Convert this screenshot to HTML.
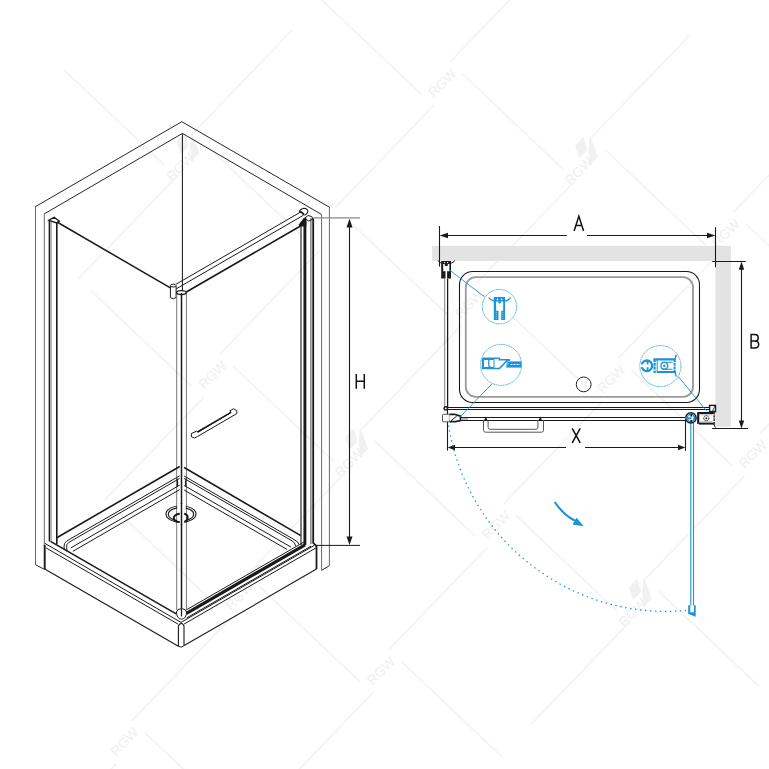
<!DOCTYPE html>
<html><head><meta charset="utf-8"><style>
html,body{margin:0;padding:0;background:#fff;width:769px;height:769px;overflow:hidden}
svg{display:block}
</style></head><body>
<svg width="769" height="769" viewBox="0 0 769 769">
<rect width="769" height="769" fill="#fff"/>
<!-- watermark -->
<g stroke="#f3f3f3" stroke-width="1.7" fill="none">
<line x1="64.1" y1="69.9" x2="164.7" y2="165.3"/>
<line x1="78.3" y1="278.8" x2="177.4" y2="175.9"/>
<line x1="91.0" y1="290.8" x2="191.6" y2="386.2"/>
<line x1="193.2" y1="132.9" x2="292.3" y2="30.0"/>
<line x1="205.9" y1="144.9" x2="306.5" y2="240.3"/>
<line x1="320.8" y1="-1.0" x2="421.4" y2="94.4"/>
<line x1="105.2" y1="499.7" x2="204.3" y2="396.8"/>
<line x1="117.9" y1="511.7" x2="218.5" y2="607.1"/>
<line x1="220.1" y1="353.8" x2="319.2" y2="250.9"/>
<line x1="232.8" y1="365.8" x2="333.4" y2="461.2"/>
<line x1="335.0" y1="207.9" x2="434.1" y2="105.0"/>
<line x1="347.7" y1="219.9" x2="448.3" y2="315.3"/>
<line x1="449.9" y1="62.0" x2="549.0" y2="-40.9"/>
<line x1="462.6" y1="74.0" x2="563.2" y2="169.4"/>
<line x1="17.2" y1="866.5" x2="116.3" y2="763.6"/>
<line x1="132.1" y1="720.6" x2="231.2" y2="617.7"/>
<line x1="144.8" y1="732.6" x2="245.4" y2="828.0"/>
<line x1="247.0" y1="574.7" x2="346.1" y2="471.8"/>
<line x1="259.7" y1="586.7" x2="360.3" y2="682.1"/>
<line x1="361.9" y1="428.8" x2="461.0" y2="325.9"/>
<line x1="374.6" y1="440.8" x2="475.2" y2="536.2"/>
<line x1="476.8" y1="282.9" x2="575.9" y2="180.0"/>
<line x1="489.5" y1="294.9" x2="590.1" y2="390.3"/>
<line x1="591.7" y1="137.0" x2="690.8" y2="34.1"/>
<line x1="604.4" y1="149.0" x2="705.0" y2="244.4"/>
<line x1="273.9" y1="795.6" x2="373.0" y2="692.7"/>
<line x1="388.8" y1="649.7" x2="487.9" y2="546.8"/>
<line x1="401.5" y1="661.7" x2="502.1" y2="757.1"/>
<line x1="503.7" y1="503.8" x2="602.8" y2="400.9"/>
<line x1="516.4" y1="515.8" x2="617.0" y2="611.2"/>
<line x1="618.6" y1="357.9" x2="717.7" y2="255.0"/>
<line x1="631.3" y1="369.9" x2="731.9" y2="465.3"/>
<line x1="733.5" y1="212.0" x2="832.6" y2="109.1"/>
<line x1="746.2" y1="224.0" x2="846.8" y2="319.4"/>
<line x1="530.6" y1="724.7" x2="629.7" y2="621.8"/>
<line x1="645.5" y1="578.8" x2="744.6" y2="475.9"/>
<line x1="658.2" y1="590.8" x2="758.8" y2="686.2"/>
<line x1="760.4" y1="432.9" x2="859.5" y2="330.0"/>
<line x1="773.1" y1="444.9" x2="873.7" y2="540.3"/>
</g>
<g fill="#efefef" font-family="Liberation Sans, sans-serif" font-size="13.5" text-anchor="middle">
<polygon points="176.4,141.9 184.9,132.4 188.9,145.9 180.9,153.9" fill="#f1f1f1"/>
<polygon points="189.9,144.9 191.4,130.9 199.4,152.9 191.4,160.9" fill="#f1f1f1"/>
<text x="180.4" y="171.4" transform="rotate(-45 180.4 166.9)">RGW</text>
<text x="212.3" y="379.6" transform="rotate(-45 212.3 374.8)">RGW</text>
<text x="442.1" y="87.8" transform="rotate(-45 442.1 83.0)">RGW</text>
<text x="124.3" y="746.4" transform="rotate(-45 124.3 741.6)">RGW</text>
<text x="239.2" y="600.5" transform="rotate(-45 239.2 595.7)">RGW</text>
<polygon points="345.1,437.8 353.6,428.3 357.6,441.8 349.6,449.8" fill="#f1f1f1"/>
<polygon points="358.6,440.8 360.1,426.8 368.1,448.8 360.1,456.8" fill="#f1f1f1"/>
<text x="349.1" y="467.3" transform="rotate(-45 349.1 462.8)">RGW</text>
<text x="469.0" y="308.7" transform="rotate(-45 469.0 303.9)">RGW</text>
<polygon points="574.9,146.0 583.4,136.5 587.4,150.0 579.4,158.0" fill="#f1f1f1"/>
<polygon points="588.4,149.0 589.9,135.0 597.9,157.0 589.9,165.0" fill="#f1f1f1"/>
<text x="578.9" y="175.5" transform="rotate(-45 578.9 171.0)">RGW</text>
<text x="381.0" y="675.5" transform="rotate(-45 381.0 670.7)">RGW</text>
<text x="495.9" y="529.6" transform="rotate(-45 495.9 524.8)">RGW</text>
<text x="610.8" y="383.7" transform="rotate(-45 610.8 378.9)">RGW</text>
<text x="725.7" y="237.8" transform="rotate(-45 725.7 233.0)">RGW</text>
<polygon points="628.7,587.8 637.2,578.3 641.2,591.8 633.2,599.8" fill="#f1f1f1"/>
<polygon points="642.2,590.8 643.7,576.8 651.7,598.8 643.7,606.8" fill="#f1f1f1"/>
<text x="632.7" y="617.3" transform="rotate(-45 632.7 612.8)">RGW</text>
<text x="752.6" y="458.7" transform="rotate(-45 752.6 453.9)">RGW</text>
</g>
<!-- /watermark -->
<!-- ============ LEFT ISOMETRIC ============ -->
<g fill="none" stroke="#1a1a1a" stroke-width="1.05" stroke-linejoin="miter">
  <!-- walls -->
  <polyline points="35.5,206.6 181.8,121.7 329.4,207.2" stroke-width="0.95"/>
  <polyline points="44.3,213.9 182.4,133.4 321.6,214.5" stroke-width="0.95"/>
  <g stroke="#6a6a6a" stroke-width="1">
    <line x1="35.5" y1="206.2" x2="35.5" y2="564.7"/>
    <line x1="329.4" y1="206.8" x2="329.4" y2="565.7"/>
    <line x1="44.3" y1="213.6" x2="44.3" y2="546"/>
    <line x1="321.6" y1="214.2" x2="321.6" y2="570.4"/>
  </g>
  <polyline points="35.5,564.7 44.5,569.4" stroke-width="0.95"/>
  <polyline points="329.4,565.7 321.6,570.4" stroke-width="0.95"/>
  <line x1="182.4" y1="133.4" x2="182.4" y2="291"/>

  <!-- left profile -->
  <line x1="49.4" y1="220.5" x2="49.4" y2="541.6" stroke-width="1.5"/>
  <line x1="56.8" y1="222.5" x2="56.8" y2="544.2" stroke-width="1.6"/>
  <line x1="51.1" y1="221" x2="51.1" y2="541" stroke="#8a8a8a" stroke-width="1.1"/>
  <polygon points="48.8,220.4 54.1,217.2 59.4,221.3 56.8,223" stroke-width="1.35"/>
  <!-- left glass top edge -->
  <line x1="57" y1="222" x2="170.4" y2="287.9" stroke-width="1.5"/>
  <!-- hinge cylinder -->
  <path d="M170.4,286 V297.5 Q173.25,300 176.1,297.5 V286" stroke-width="1"/>
  <ellipse cx="173.25" cy="285.6" rx="2.85" ry="1.4" stroke-width="1"/>
  <!-- center post -->
  <line x1="176.7" y1="293" x2="176.7" y2="610" stroke="#777" stroke-width="1"/>
  <line x1="181.5" y1="293" x2="181.5" y2="610" stroke-width="1.5"/>
  <line x1="186.4" y1="293" x2="186.4" y2="610" stroke="#777" stroke-width="1"/>
  <ellipse cx="181.4" cy="292.6" rx="4.8" ry="2" stroke-width="1.3"/>
  <!-- top rail -->
  <line x1="176.1" y1="284.2" x2="300.9" y2="211.9" stroke-width="1"/>
  <line x1="176.1" y1="288.9" x2="302.8" y2="215.6" stroke-width="1"/>
  <line x1="186.3" y1="292" x2="300.5" y2="226" stroke-width="1.7"/>
  <path d="M299,211.6 C300.8,208.6 305.2,207 307.4,209.8 C308.6,211.6 307.6,213.6 304.6,215.4" fill="#fff" stroke-width="1.1"/>
  <path d="M299.4,211.6 C301.6,212 303.4,213.4 303.9,215.3" stroke-width="1.7"/>
  <!-- right profile -->
  <line x1="301" y1="224" x2="301" y2="545" stroke="#222" stroke-width="1.15"/>
  <line x1="304.9" y1="218" x2="304.9" y2="545" stroke-width="2.9"/>
  <line x1="310.9" y1="218" x2="310.9" y2="544" stroke="#555" stroke-width="1.1"/>
  <line x1="313.2" y1="218.5" x2="313.2" y2="543" stroke-width="1.8"/>
  <polygon points="304.5,218.2 308.1,215.5 311.8,216.6 313,219 308.6,221" stroke-width="1"/>
  <path d="M298.6,224.8 L303.4,218.4 L306.3,219.4 L306.3,226.5 L299.5,226.5 Z" fill="#1a1a1a" stroke="none"/>
  <!-- handle -->
  <path d="M191.4,433.5 L196.5,431.2 L198.2,432.1 L231,412.4 L229.8,410.8 L233.5,408.8 L236.8,410.6 L236.8,413.6 L197.5,436.5 L194.5,438 L191.4,436.8 Z" stroke-width="1"/>
  <line x1="197.5" y1="432" x2="231" y2="412.3" stroke-width="1.5"/>
  <!-- H dimension -->
  <line x1="313.2" y1="217.8" x2="360" y2="217.8" stroke="#888" stroke-width="1.2"/>
  <line x1="316.6" y1="545.4" x2="360" y2="545.4" stroke-width="1"/>
  <line x1="349.5" y1="222" x2="349.5" y2="541" stroke-width="1.1"/>
  <path d="M349.5,218.8 L346.5,227.6 L352.5,227.6 Z" fill="#1a1a1a" stroke="none"/>
  <path d="M349.5,545 L346.5,536.5 L352.5,536.5 Z" fill="#1a1a1a" stroke="none"/>
  <!-- tray back edges (thick) -->
  <line x1="56.8" y1="537.7" x2="179.7" y2="466.5" stroke-width="1.6"/>
  <line x1="184.1" y1="467.5" x2="300.8" y2="535.6" stroke-width="1.6"/>
  <!-- tray rim back-left -->
  <g stroke-width="1">
    <path d="M179.7,475.8 L67,540.8 Q63.5,543 64,547 L64.5,549.5"/>
    <path d="M179.7,478.4 L69,542.3 Q66,544.3 66.6,547.3 L67,551"/>
    <line x1="179.7" y1="485.1" x2="70.8" y2="547.9"/>
    <line x1="179.7" y1="489.6" x2="72.9" y2="551.3"/>
    <path d="M176.8,478.5 Q178.3,482 177.2,486.5" stroke-width="1.2"/>
    <!-- rim back-right -->
    <path d="M184.1,476 L294,539.5 Q298.5,541.7 298.9,544.3"/>
    <path d="M184.1,478.4 L292,540.8 Q295.5,543 295.5,546"/>
    <line x1="184.1" y1="485.4" x2="291" y2="547.1"/>
    <line x1="184.1" y1="490" x2="287" y2="549.4"/>
    <path d="M186.3,478.5 Q184.8,482 185.8,486.5" stroke-width="1.2"/>
  </g>
  <!-- drain -->
  <g stroke-width="1.1">
    <ellipse cx="181" cy="514" rx="15" ry="8.3"/>
    <ellipse cx="181" cy="514.3" rx="12.7" ry="6.7"/>
  </g>
  <rect x="177.3" y="504" width="8.4" height="20" fill="#fff" stroke="none"/>
  <path d="M179.8,513.8 C175.5,514 173.5,516.5 173.8,518 C174,520.5 176.5,522 179.8,522.1" stroke-width="2"/>
  <path d="M184.2,513.8 C187,514.2 188,516 187.6,518 C187.2,520 185.8,521.8 184.2,522.1" stroke-width="2"/>
  <line x1="181.5" y1="503" x2="181.5" y2="525" stroke-width="1.5"/>
  <!-- tray front left -->
  <line x1="44.7" y1="545" x2="44.7" y2="569.2" stroke-width="1.9"/>
  <line x1="44.7" y1="569" x2="178.4" y2="646.2" stroke-width="1.1"/>
  <line x1="44.8" y1="543.3" x2="181" y2="622.4" stroke-width="1"/>
  <line x1="46.2" y1="548" x2="178.4" y2="624.3" stroke-width="1"/>
  <line x1="50.5" y1="541.4" x2="176.2" y2="613.9" stroke-width="1.6"/>
  <!-- tray front corner -->
  <path d="M178.4,646.2 V626 Q181.3,620.8 184,626 V645.5" stroke-width="1.1"/>
  <path d="M178.4,646.2 Q181.3,648.5 184.2,645.5" stroke-width="1"/>
  <!-- post knob -->
  <path d="M176.4,612 Q176.6,618.6 181.5,619.2 Q186.5,618.6 186.6,612 Q186,608.8 181.5,608.6 Q177,608.8 176.4,612" fill="#fff" stroke-width="1"/>
  <line x1="181.5" y1="609" x2="181.5" y2="616.5" stroke-width="1.2"/>
  <!-- tray front right -->
  <line x1="184.2" y1="645.5" x2="316.5" y2="569.1" stroke-width="1.1"/>
  <line x1="316.5" y1="569.1" x2="316.5" y2="545" stroke-width="1.8"/>
  <path d="M312.8,542.8 L315.5,544.8 L316.5,546.5" stroke-width="1.6"/>
  <line x1="181" y1="622.4" x2="314.5" y2="545.3" stroke-width="1"/>
  <line x1="183.8" y1="624.2" x2="316.5" y2="547.6" stroke-width="1"/>
  <!-- door bottom track -->
  <line x1="186.5" y1="609.8" x2="305" y2="541.4" stroke-width="1"/>
  <line x1="186.5" y1="613.3" x2="305" y2="544.9" stroke-width="3.2"/>
  <line x1="186.5" y1="618" x2="311" y2="546.2" stroke-width="1"/>
</g>

<!-- ============ RIGHT PLAN ============ -->
<g>
  <rect x="432.1" y="245.8" width="298.8" height="15.1" fill="#e3e3e3"/>
  <rect x="715.3" y="260.9" width="15.6" height="165.9" fill="#e3e3e3"/>
</g>
<g fill="none" stroke="#1a1a1a" stroke-width="1.2">
  <!-- A dimension -->
  <line x1="439.5" y1="226" x2="439.5" y2="266.6" stroke-width="1.1"/>
  <line x1="715.5" y1="227.1" x2="715.5" y2="267.3" stroke-width="1.1"/>
  <line x1="442" y1="235.5" x2="566.8" y2="235.5" stroke-width="1.1"/>
  <line x1="587" y1="235.5" x2="712" y2="235.5" stroke-width="1.1"/>
  <path d="M439.6,235.5 L448,232.8 L448,238.2 Z" fill="#1a1a1a" stroke="none"/>
  <path d="M715.4,235.5 L707,232.8 L707,238.2 Z" fill="#1a1a1a" stroke="none"/>
  <!-- B dimension -->
  <line x1="712.2" y1="261.5" x2="745.7" y2="261.5" stroke-width="1.1"/>
  <line x1="712.1" y1="428.5" x2="748" y2="428.5" stroke-width="1.1"/>
  <line x1="741.5" y1="265" x2="741.5" y2="425" stroke-width="1.1"/>
  <path d="M741.5,261.6 L738.8,269.8 L744.2,269.8 Z" fill="#1a1a1a" stroke="none"/>
  <path d="M741.5,428.4 L738.8,420.4 L744.2,420.4 Z" fill="#1a1a1a" stroke="none"/>
  <!-- X dimension -->
  <line x1="447.5" y1="422" x2="447.5" y2="450.6" stroke-width="1.1"/>
  <line x1="685.5" y1="419" x2="685.5" y2="450.8" stroke-width="1.1"/>
  <line x1="450" y1="447.5" x2="566" y2="447.5" stroke-width="1.1"/>
  <line x1="585" y1="447.5" x2="683" y2="447.5" stroke-width="1.1"/>
  <path d="M447.7,447.5 L455,444.8 L455,450.2 Z" fill="#1a1a1a" stroke="none"/>
  <path d="M685.3,447.5 L678,444.8 L678,450.2 Z" fill="#1a1a1a" stroke="none"/>
  <!-- tray -->
  <rect x="459.5" y="271.5" width="240" height="131" rx="13" ry="13" stroke-width="1.1"/>
  <rect x="465.8" y="277.1" width="227.2" height="119.8" rx="10" ry="10" stroke="#9a9a9a" stroke-width="1.8"/>
  <circle cx="583.7" cy="384.4" r="7.4" stroke="#222" stroke-width="1"/>
  <!-- left wall profile -->
  <line x1="444.6" y1="278.6" x2="444.6" y2="407" stroke="#9a9a9a" stroke-width="1.3"/>
  <line x1="447.6" y1="278.6" x2="447.6" y2="407" stroke-width="1.3"/>
  <circle cx="445.8" cy="408.4" r="1.7" fill="#fff" stroke-width="1.5"/>
  <line x1="447.5" y1="410" x2="447.5" y2="414.3" stroke-width="1.2"/>
  <!-- fixed glass -->
  <line x1="447.5" y1="407.5" x2="709.5" y2="407.5" stroke-width="1.1"/>
  <line x1="447.5" y1="409.5" x2="709.5" y2="409.5" stroke-width="1.1"/>
  <rect x="709.6" y="405.4" width="5.9" height="6.2" fill="#fff" stroke-width="1.4"/>
  <path d="M715,406 L712.3,411.3" stroke-width="0.8"/>
  <!-- door track -->
  <line x1="460" y1="417.5" x2="686" y2="417.5" stroke-width="1.1"/>
  <line x1="460" y1="420.5" x2="686" y2="420.5" stroke-width="1.1"/>
  <!-- handle -->
  <path d="M483.5,420.2 V430.2 Q483.5,432.2 485.5,432.2 H541.5 Q543.5,432.2 543.5,430.2 V420.2" stroke="#555" stroke-width="1"/>
  <path d="M488.1,420.2 V427.3 Q488.1,429.3 490.1,429.3 H535.9 Q537.9,429.3 537.9,427.3 V420.2" stroke="#555" stroke-width="1"/>
  <path d="M484,420.5 L485.8,416.5 L487.6,420.5 Z M538.5,420.5 L540.3,416.5 L542.1,420.5 Z" fill="#1a1a1a" stroke="none"/>
  <!-- left hinge top -->
  <path d="M441.2,260.9 H451 V278.4 H447.1 V271.2 H445.5 V278.4 H441.2 Z M443.2,264 V271.2 H449.4 V264 Z" fill="#1a1a1a" stroke="none" fill-rule="evenodd"/>
  <circle cx="444.6" cy="262.6" r="0.7" fill="#fff" stroke="none"/>
  <circle cx="447.6" cy="262.6" r="0.7" fill="#fff" stroke="none"/>
  <path d="M444.8,264 V265.5 Q446.3,267 447.8,265.5 V264" fill="#1a1a1a" stroke="none"/>
  <path d="M438,260.5 Q439.5,262.8 441.5,263.2 M451,263.2 Q453,262.8 455,260.5" stroke-width="1"/>
  <!-- left bottom bracket -->
  <rect x="442.5" y="414.3" width="6.9" height="7.5" rx="0.8" fill="#fff" stroke="#555" stroke-width="1"/>
  <path d="M449.4,414.3 H454.5 L460.5,416.2 V420.6 L455.5,421.6 H449.4" fill="#fff" stroke-width="1.7"/>
  <path d="M451,420.8 L456.8,416" stroke-width="1"/>
  <rect x="461" y="418.2" width="7" height="1.6" fill="#aaa" stroke="none"/>
  <!-- right hinge -->
  <rect x="698.9" y="413.3" width="15.2" height="10" fill="#fff" stroke="none"/>
  <line x1="698.2" y1="412.8" x2="698.2" y2="423.8" stroke-width="2.2"/>
  <line x1="697.5" y1="413" x2="714.6" y2="413" stroke-width="2"/>
  <line x1="699" y1="423.6" x2="714.6" y2="423.6" stroke-width="2"/>
  <line x1="714.2" y1="412" x2="714.2" y2="424.5" stroke="#444" stroke-width="1.6" stroke-dasharray="2.5 0.8"/>
  <circle cx="706.3" cy="418.2" r="2.6" stroke-width="1" stroke-dasharray="1.6 0.6"/>
  <circle cx="706.3" cy="418.2" r="1" fill="#1a1a1a" stroke="none"/>
  <line x1="700" y1="414.8" x2="712.5" y2="414.8" stroke-width="0.6" stroke="#888"/>
  <line x1="700" y1="421.8" x2="712.5" y2="421.8" stroke-width="0.6" stroke="#888"/>
  <path d="M713.8,424.2 L715.4,427.6" stroke-width="1"/>
  <path d="M714.2,412.2 L715.5,410.2" stroke-width="1"/>
</g>
<!-- blue parts -->
<g fill="none" stroke="#1b93d6">
  <line x1="690.8" y1="423" x2="690.8" y2="606" stroke-width="1.1"/>
  <line x1="693.5" y1="423" x2="693.5" y2="606" stroke-width="1.1"/>
  <path d="M688.2,605.2 H695.7 V616.8 L688.2,613.8 Z" fill="#1b93d6" stroke="none"/>
  <path d="M690.3,605.2 H693.9 V612.3 H690.3 Z" fill="#fff" stroke="none"/>
  <!-- door hinge -->
  <circle cx="690.9" cy="417.9" r="5.2" fill="#fff" stroke="#1a1a1a" stroke-width="1.5"/>
  <circle cx="690.9" cy="417.9" r="3.6" stroke="#1b93d6" stroke-width="1.3"/>
  <line x1="685" y1="418.3" x2="691.5" y2="418.3" stroke="#1b93d6" stroke-width="2"/>
  <line x1="691.3" y1="413.8" x2="691.3" y2="416.6" stroke="#1a1a1a" stroke-width="1.8"/>
  <line x1="691.3" y1="420" x2="691.3" y2="422.4" stroke="#1a1a1a" stroke-width="1.8"/>
  <line x1="694.3" y1="416" x2="694.3" y2="420.3" stroke="#1b93d6" stroke-width="1.5"/>
  <!-- dotted arc -->
  <path d="M448.6,425.5 A220.5,220.5 0 0 0 686,610.5" stroke-width="1.3" stroke-dasharray="1.4 3.6"/>
  <!-- curved arrow -->
  <path d="M554.8,502 Q563,514.5 575,520.8" stroke-width="2.1"/>
  <path d="M583.6,526.2 L572.6,524.4 L576.6,517.8 Z" fill="#1b93d6" stroke="none"/>
  <!-- leader lines -->
  <line x1="449.5" y1="270" x2="484.7" y2="297" stroke-width="0.9"/>
  <line x1="491.7" y1="384.1" x2="460.5" y2="416.5" stroke-width="0.9"/>
  <line x1="678.4" y1="376.7" x2="707" y2="411.5" stroke-width="0.9"/>
  <!-- circles -->
  <circle cx="499.5" cy="306.7" r="17.2" stroke="#3a9fdc" stroke-width="0.85" stroke-dasharray="1.8 0.6"/>
  <circle cx="501.1" cy="364.9" r="20.5" stroke="#3a9fdc" stroke-width="0.85" stroke-dasharray="1.8 0.6"/>
  <circle cx="660.4" cy="366.1" r="20.5" stroke="#3a9fdc" stroke-width="0.85" stroke-dasharray="1.8 0.6"/>
</g>

<!-- icons -->
<g fill="none" stroke="#1b93d6">
  <!-- icon1 -->
  <path d="M493.8,297.1 H505.1 V320.1 H501.2 V310.7 H498.5 V320.1 H493.8 Z M496.1,301.4 V310.7 H503.2 V301.4 Z" fill="#1b93d6" stroke="none" fill-rule="evenodd"/>
  <circle cx="497.5" cy="299.4" r="0.8" fill="#fff" stroke="none"/>
  <circle cx="501.6" cy="299.4" r="0.8" fill="#fff" stroke="none"/>
  <path d="M498.3,301.3 V302.8 Q499.6,304.3 501,302.8 V301.3 Z" fill="#1b93d6" stroke="none"/>
  <path d="M488.7,297.5 Q490.5,300.5 494,301.2 M505.1,301.2 Q508.6,300.5 510.6,297.5" stroke-width="1.3"/>
  <path d="M496.3,312 V318.8 M502.9,312 V318.8" stroke="#fff" stroke-width="0.5" stroke-dasharray="1 1"/>
  <!-- icon2 -->
  <path d="M482.6,358.2 H499.3 V359.8 H510 L506,361.5 M482.6,358.2 V368.4 H499.5 L506.3,361.5" stroke-width="1.5"/>
  <path d="M483.5,359.5 H494 V367.5 H483.5 Z" fill="none" stroke-width="1"/>
  <path d="M488.8,359.5 V366 L490.5,366.5" stroke-width="1.3"/>
  <path d="M506.3,361.4 H521.4 V367.6 H506.3 Z" fill="#1b93d6" stroke="none"/>
  <path d="M510.5,364.5 H520" stroke="#fff" stroke-width="1" stroke-dasharray="2 1"/>
  <path d="M505,364 L508.5,361.6 M503.5,367 L508.5,363.5" stroke="#fff" stroke-width="0.6"/>
  <!-- icon3 -->
  <circle cx="646.9" cy="365.8" r="5.3" stroke-width="2.3"/>
  <rect x="640" y="364.4" width="8.6" height="2.8" fill="#fff" stroke="none"/>
  <line x1="647.6" y1="361" x2="647.6" y2="364.4" stroke-width="1.8"/>
  <line x1="647.6" y1="367.2" x2="647.6" y2="370.6" stroke-width="1.8"/>
  <line x1="654.6" y1="359" x2="654.6" y2="373" stroke-width="2.2" stroke-dasharray="3 0.8"/>
  <path d="M653.5,359.4 H675.6 M656.8,372 H675.6" stroke-width="2.2"/>
  <line x1="657.2" y1="359.5" x2="657.2" y2="372" stroke-width="1"/>
  <path d="M662,362.3 H672.5 M662,369.3 H672.5" stroke-width="1.1"/>
  <line x1="674.6" y1="359" x2="674.6" y2="372.5" stroke-width="2" stroke-dasharray="3 0.7"/>
  <circle cx="664.3" cy="365.7" r="3.4" stroke-width="1.3"/>
  <circle cx="664.3" cy="365.7" r="1.3" fill="#1b93d6" stroke="none"/>
  <path d="M675,359.3 L676.2,354.8 M675,372 L676.2,376.6" stroke-width="1.4"/>
</g>
<!-- labels -->
<g fill="none" stroke="#111" stroke-width="1.5" stroke-linejoin="miter">
  <path d="M574.1,231 L578.85,216.1 L583.6,231 M575.7,225.6 H582"/>
  <path d="M751.1,348.7 V334.6 H754.8 Q758.2,334.6 758.2,337.9 Q758.2,341.1 754.8,341.1 H751.1 M754.8,341.1 Q758.7,341.1 758.7,344.6 Q758.7,348 754.8,348 H751.1"/>
  <path d="M572.2,428.3 L580.2,442.8 M580.2,428.3 L572.2,442.8"/>
  <path d="M356.3,374 V388.7 M364.3,374 V388.7 M356.3,381.3 H364.3"/>
</g>
</svg>
</body></html>
